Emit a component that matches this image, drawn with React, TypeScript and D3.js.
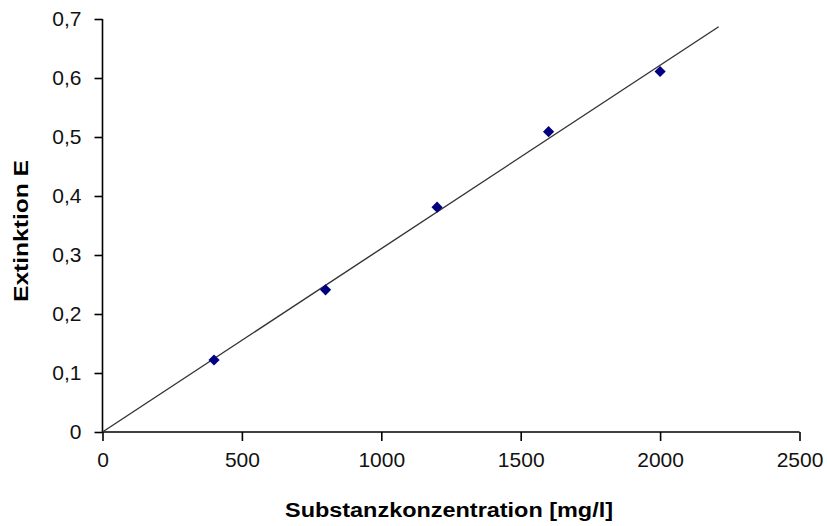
import React, { useEffect, useRef } from 'react';
import * as d3 from 'd3';

// measured data (concentration in mg/l, extinction E)
const concentrations = [400, 800, 1200, 1600, 2000];
const extinctions = [0.122, 0.241, 0.381, 0.509, 0.611];
const xTicks = [0, 500, 1000, 1500, 2000, 2500];
const yTicks = [0, 0.1, 0.2, 0.3, 0.4, 0.5, 0.6, 0.7];
const trendEnd = 2210; // trendline (through origin) drawn up to here

const width = 828;
const height = 526;

export default function App() {
  const ref = useRef<SVGSVGElement>(null);

  useEffect(() => {
    const svg = d3.select(ref.current);
    svg.selectAll('*').remove();

    const xScale = d3.scaleLinear().domain([0, 2500]).range([102.5, 799.5]);
    const yScale = d3.scaleLinear().domain([0, 0.7]).range([432, 19]);

    const font = "'Liberation Sans', Arial, sans-serif";

    // axes
    const xAxis = svg.append('g')
      .attr('transform', 'translate(0,432)')
      .call(d3.axisBottom(xScale).tickValues(xTicks).tickSize(9).tickPadding(11).tickFormat(d => String(d)));
    const yAxis = svg.append('g')
      .attr('transform', 'translate(102.5,0)')
      .call(d3.axisLeft(yScale).tickValues(yTicks).tickSize(8).tickPadding(13)
        .tickFormat(d => String(d).replace('.', ',')));

    [xAxis, yAxis].forEach(ax => {
      ax.select('.domain').attr('stroke', '#000').attr('stroke-width', 1.6);
      ax.selectAll('.tick line').attr('stroke', '#000').attr('stroke-width', 1.6);
      ax.selectAll('.tick text')
        .attr('fill', '#111')
        .style('font-family', font)
        .style('font-size', '21px');
    });
    // remove outer tick ends from the domain path, keep straight lines
    xAxis.select('.domain').attr('d', `M${xScale(0)},0H${xScale(2500)}`);
    yAxis.select('.domain').attr('d', `M0,${yScale(0.7)}V${yScale(0)}`);

    // linear regression through origin
    const sxy = d3.sum(concentrations, (c, i) => c * extinctions[i]);
    const sxx = d3.sum(concentrations, c => c * c);
    const slope = sxy / sxx;

    const line = d3.line<number>()
      .x(d => xScale(d))
      .y(d => yScale(d * slope));

    svg.append('path')
      .datum([0, trendEnd])
      .attr('d', line)
      .attr('fill', 'none')
      .attr('stroke', '#333')
      .attr('stroke-width', 1.4);

    // markers
    svg.selectAll('.dot')
      .data(concentrations)
      .enter().append('path')
      .attr('class', 'dot')
      .attr('d', d3.symbol(d3.symbolDiamond2, 80)())
      .attr('transform', (d, i) => `translate(${xScale(d)},${yScale(extinctions[i])})`)
      .attr('fill', '#000080');

    // axis titles
    svg.append('text')
      .attr('x', 449)
      .attr('y', 517)
      .attr('text-anchor', 'middle')
      .attr('textLength', 328)
      .attr('lengthAdjust', 'spacingAndGlyphs')
      .style('font-family', font)
      .style('font-weight', 'bold')
      .style('font-size', '20px')
      .attr('fill', '#000')
      .text('Substanzkonzentration [mg/l]');

    svg.append('text')
      .attr('transform', 'translate(28,231) rotate(-90)')
      .attr('text-anchor', 'middle')
      .attr('textLength', 142)
      .attr('lengthAdjust', 'spacingAndGlyphs')
      .style('font-family', font)
      .style('font-weight', 'bold')
      .style('font-size', '20px')
      .attr('fill', '#000')
      .text('Extinktion E');
  }, []);

  return (
    <svg
      ref={ref}
      width={width}
      height={height}
      style={{ position: 'absolute', left: 0, top: 0, background: '#fff' }}
    />
  );
}
